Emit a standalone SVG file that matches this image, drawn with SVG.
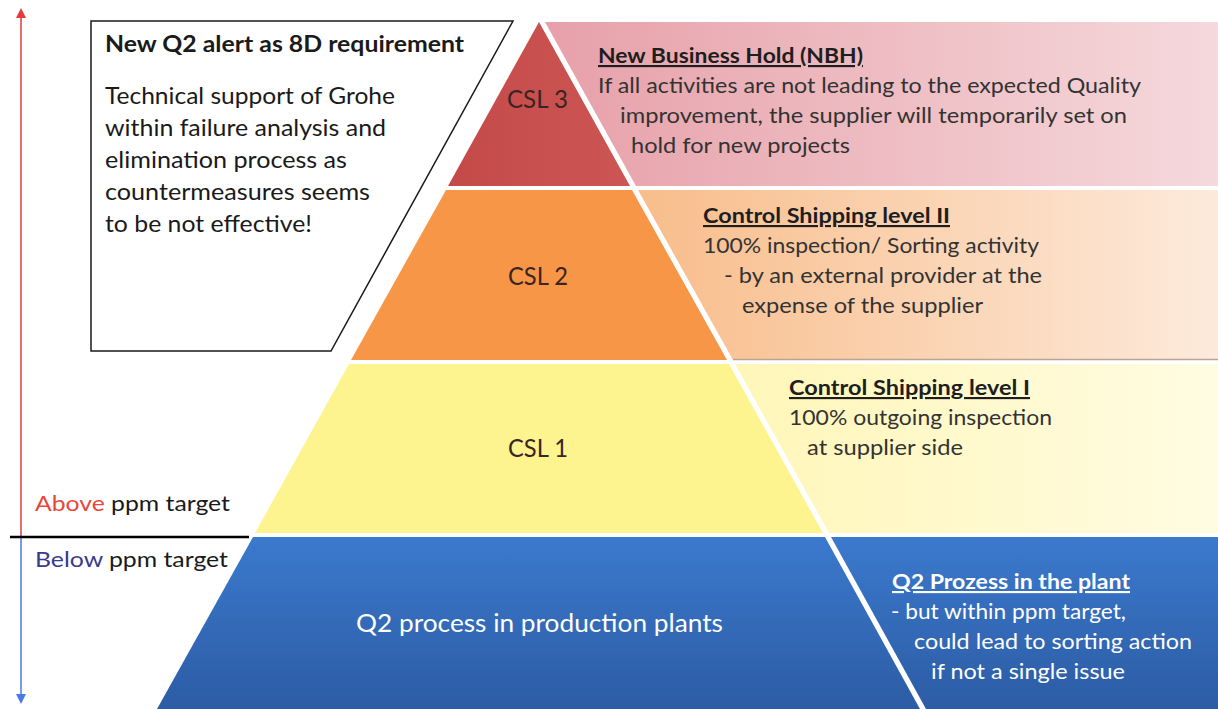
<svg xmlns="http://www.w3.org/2000/svg" width="1218" height="709" viewBox="0 0 1218 709">
<defs>
  <linearGradient id="gPink" x1="0" y1="0" x2="1" y2="0">
    <stop offset="0" stop-color="#e7a0a9"/>
    <stop offset="1" stop-color="#f5d9dc"/>
  </linearGradient>
  <linearGradient id="gPeach" x1="0" y1="0" x2="1" y2="0">
    <stop offset="0" stop-color="#f8bd8b"/>
    <stop offset="1" stop-color="#fdeadb"/>
  </linearGradient>
  <linearGradient id="gLYel" x1="0" y1="0" x2="1" y2="0">
    <stop offset="0" stop-color="#fff6b8"/>
    <stop offset="1" stop-color="#fffce2"/>
  </linearGradient>
  <linearGradient id="gBlue" x1="0" y1="0" x2="0" y2="1">
    <stop offset="0" stop-color="#3b79cd"/>
    <stop offset="1" stop-color="#2c5ca4"/>
  </linearGradient>
  <linearGradient id="gRed" x1="0" y1="0" x2="1" y2="0">
    <stop offset="0" stop-color="#c44a48"/>
    <stop offset="1" stop-color="#cc5654"/>
  </linearGradient>
  <marker id="arrUp" viewBox="0 0 10 10" refX="5" refY="8" markerWidth="10" markerHeight="10" markerUnits="userSpaceOnUse">
    <path d="M0,10 L5,0 L10,10 Z" fill="#e23a3a"/>
  </marker>
  <marker id="arrDown" viewBox="0 0 10 10" refX="5" refY="2" markerWidth="10" markerHeight="10" markerUnits="userSpaceOnUse">
    <path d="M0,0 L5,10 L10,0 Z" fill="#4a78e6"/>
  </marker>
</defs>
<style>
  text { font-family: Lato, "Liberation Sans", Arial, sans-serif; }
  .box { font-size: 23px; fill: #1a1a1a; }
  .boxT { font-size: 23px; font-weight: 700; fill: #1a1a1a; }
  .rt { font-size: 21.5px; fill: #333333; }
  .rh { font-size: 21.5px; font-weight: 700; fill: #1e1e1e; text-decoration: underline; }
  .wt { font-size: 21.5px; fill: #ffffff; }
  .wh { font-size: 21.5px; font-weight: 700; fill: #ffffff; text-decoration: underline; }
  .csl { font-size: 25px; fill: #3a2424; }
  .lvl { font-size: 22px; fill: #1a1a1a; }
</style>
<rect width="1218" height="709" fill="#ffffff"/>

<g id="axis">
  <line x1="21" y1="16" x2="21" y2="537" stroke="#e23a3a" stroke-width="1.5" marker-start="url(#arrUp)"/>
  <line x1="21" y1="537" x2="21" y2="696" stroke="#4a78e6" stroke-width="1.5" marker-end="url(#arrDown)"/>
  <line x1="10" y1="537" x2="249" y2="537" stroke="#000000" stroke-width="2.5"/>
  <text class="lvl" x="35" y="511" textLength="195" lengthAdjust="spacingAndGlyphs"><tspan fill="#e8473a">Above</tspan> ppm target</text>
  <text class="lvl" x="35" y="567" textLength="193" lengthAdjust="spacingAndGlyphs"><tspan fill="#3a3a8e">Below</tspan> ppm target</text>
</g>

<g id="alert-box">
  <polygon points="91,21 513,21 331,351 91,351" fill="#ffffff" stroke="#1a1a1a" stroke-width="1.5"/>
  <text class="boxT" x="105" y="52" textLength="359" lengthAdjust="spacingAndGlyphs">New Q2 alert as 8D requirement</text>
  <text class="box" x="105" y="104" textLength="290" lengthAdjust="spacingAndGlyphs">Technical support of Grohe</text>
  <text class="box" x="105" y="136" textLength="281" lengthAdjust="spacingAndGlyphs">within failure analysis and</text>
  <text class="box" x="105" y="168" textLength="242" lengthAdjust="spacingAndGlyphs">elimination process as</text>
  <text class="box" x="105" y="200" textLength="265" lengthAdjust="spacingAndGlyphs">countermeasures seems</text>
  <text class="box" x="105" y="232" textLength="207" lengthAdjust="spacingAndGlyphs">to be not effective!</text>
</g>

<g id="csl3">
  <polygon points="539,22 630,186 448,186" fill="url(#gRed)"/>
  <text class="csl" x="507" y="108" textLength="61" lengthAdjust="spacingAndGlyphs">CSL 3</text>
</g>
<g id="csl2">
  <polygon points="446,190 632,190 727,360 351,360" fill="#f79646"/>
  <text class="csl" x="508" y="285" textLength="60" lengthAdjust="spacingAndGlyphs">CSL 2</text>
</g>
<g id="csl1">
  <polygon points="349,364 729,364 823,533 255,533" fill="#fdf38f"/>
  <text class="csl" x="508" y="457" textLength="60" lengthAdjust="spacingAndGlyphs">CSL 1</text>
</g>
<g id="q2-base">
  <polygon points="253,537 825,537 920,709 157,709" fill="url(#gBlue)"/>
  <text class="wt" x="356" y="632" style="font-size:25px" textLength="367" lengthAdjust="spacingAndGlyphs">Q2 process in production plants</text>
</g>

<g id="nbh-panel">
  <polygon points="545,22 1218,22 1218,186 636,186" fill="url(#gPink)"/>
  <text class="rh" x="598" y="63" textLength="265" lengthAdjust="spacingAndGlyphs">New Business Hold (NBH)</text>
  <text class="rt" x="598" y="93" textLength="543" lengthAdjust="spacingAndGlyphs">If all activities are not leading to the expected Quality</text>
  <text class="rt" x="620" y="123" textLength="507" lengthAdjust="spacingAndGlyphs">improvement, the supplier will temporarily set on</text>
  <text class="rt" x="631" y="153" textLength="219" lengthAdjust="spacingAndGlyphs">hold for new projects</text>
</g>

<g id="csl2-panel">
  <polygon points="638,190 1218,190 1218,360 733,360" fill="url(#gPeach)"/>
  <line x1="733" y1="359.5" x2="1218" y2="359.5" stroke="#b9a597" stroke-width="1.5"/>
  <text class="rh" x="703" y="223" textLength="247" lengthAdjust="spacingAndGlyphs">Control Shipping level II</text>
  <text class="rt" x="703" y="253" textLength="336" lengthAdjust="spacingAndGlyphs">100% inspection/ Sorting activity</text>
  <text class="rt" x="724" y="283" textLength="318" lengthAdjust="spacingAndGlyphs">- by an external provider at the</text>
  <text class="rt" x="742" y="313" textLength="241" lengthAdjust="spacingAndGlyphs">expense of the supplier</text>
</g>

<g id="csl1-panel">
  <polygon points="735,364 1218,364 1218,533 829,533" fill="url(#gLYel)"/>
  <text class="rh" x="789" y="395" textLength="241" lengthAdjust="spacingAndGlyphs">Control Shipping level I</text>
  <text class="rt" x="789" y="425" textLength="263" lengthAdjust="spacingAndGlyphs">100% outgoing inspection</text>
  <text class="rt" x="807" y="455" textLength="156" lengthAdjust="spacingAndGlyphs">at supplier side</text>
</g>

<g id="q2-panel">
  <polygon points="831,537 1218,537 1218,709 926,709" fill="url(#gBlue)"/>
  <text class="wh" x="892" y="589" textLength="238" lengthAdjust="spacingAndGlyphs">Q2 Prozess in the plant</text>
  <text class="wt" x="891" y="619" textLength="235" lengthAdjust="spacingAndGlyphs">- but within ppm target,</text>
  <text class="wt" x="914" y="649" textLength="278" lengthAdjust="spacingAndGlyphs">could lead to sorting action</text>
  <text class="wt" x="931" y="679" textLength="194" lengthAdjust="spacingAndGlyphs">if not a single issue</text>
</g>
</svg>
